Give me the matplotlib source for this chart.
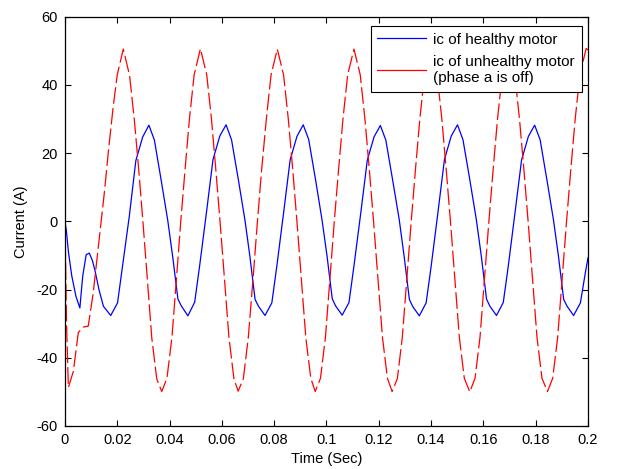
import matplotlib
matplotlib.use("Agg")
import matplotlib.pyplot as plt
from matplotlib.lines import Line2D

plt.rcParams['font.family'] = ['Liberation Sans', 'DejaVu Sans']
plt.rcParams['lines.scale_dashes'] = False
plt.rcParams['axes.unicode_minus'] = False

# healthy motor, phase c current
t_healthy = [0.0000, 0.0005, 0.0013, 0.0026, 0.0042, 0.0057, 0.0062, 0.0068, 0.0081, 0.0093,
             0.0105, 0.0115, 0.0130, 0.0147,
             0.0175, 0.0201, 0.0220, 0.0246, 0.0271, 0.0297, 0.0321, 0.0342, 0.0368, 0.0393, 0.0412, 0.0432, 0.0445,
             0.0470, 0.0496, 0.0515, 0.0541, 0.0566, 0.0592, 0.0616, 0.0637, 0.0663, 0.0688, 0.0707, 0.0727, 0.0740,
             0.0765, 0.0791, 0.0810, 0.0836, 0.0861, 0.0887, 0.0911, 0.0932, 0.0958, 0.0983, 0.1002, 0.1022, 0.1035,
             0.1060, 0.1086, 0.1105, 0.1131, 0.1156, 0.1182, 0.1206, 0.1227, 0.1253, 0.1278, 0.1297, 0.1317, 0.1330,
             0.1355, 0.1381, 0.1400, 0.1426, 0.1451, 0.1477, 0.1501, 0.1522, 0.1548, 0.1573, 0.1592, 0.1612, 0.1625,
             0.1650, 0.1676, 0.1695, 0.1721, 0.1746, 0.1772, 0.1796, 0.1817, 0.1843, 0.1868, 0.1887, 0.1907, 0.1920,
             0.1945, 0.1971, 0.1990, 0.2000]
i_healthy = [0.0, -2.5, -8.8, -16.0, -22.0, -25.4, -21.0, -16.0, -9.8, -9.3,
             -11.5, -14.5, -20.0, -24.9,
             -27.6, -23.9, -13.2, 1.5, 17.8, 24.7, 28.2, 23.8, 12.0, 0.3, -10.4, -22.8, -24.8,
             -27.7, -23.7, -13.0, 2.6, 18.1, 25.0, 28.3, 23.9, 12.2, 0.5, -10.2, -22.9, -24.9,
             -27.6, -23.9, -13.2, 2.5, 18.0, 24.9, 28.3, 24.0, 12.3, 0.4, -10.1, -22.7, -24.8,
             -27.5, -23.8, -13.1, 2.4, 17.9, 24.8, 28.1, 23.8, 12.1, 0.6, -10.3, -22.9, -25.0,
             -27.7, -23.9, -13.3, 2.5, 18.1, 25.0, 28.3, 23.9, 12.2, 0.5, -10.2, -22.8, -24.9,
             -27.6, -23.8, -13.2, 2.6, 18.0, 24.9, 28.2, 23.9, 12.1, 0.4, -10.2, -22.9, -24.9,
             -27.6, -23.9, -15.0, -10.7]

# unhealthy motor (phase a off), phase c current
t_faulty = [0.0000, 0.0006, 0.0013, 0.0032, 0.0051, 0.0070, 0.0089, 0.0108, 0.0134, 0.0150,
            0.0168, 0.0185, 0.0200, 0.0223,
            0.0247, 0.0265, 0.0282, 0.0298, 0.0314, 0.0332, 0.0351, 0.0370,
            0.0390, 0.0409, 0.0427, 0.0443, 0.0459, 0.0476, 0.0494, 0.0518,
            0.0542, 0.0560, 0.0577, 0.0593, 0.0609, 0.0627, 0.0646, 0.0662,
            0.0682, 0.0701, 0.0720, 0.0736, 0.0752, 0.0770, 0.0788, 0.0812,
            0.0836, 0.0854, 0.0871, 0.0887, 0.0903, 0.0921, 0.0940, 0.0957,
            0.0977, 0.0996, 0.1014, 0.1030, 0.1046, 0.1063, 0.1081, 0.1105,
            0.1129, 0.1147, 0.1164, 0.1180, 0.1196, 0.1214, 0.1233, 0.1251,
            0.1271, 0.1290, 0.1308, 0.1324, 0.1340, 0.1357, 0.1375, 0.1399,
            0.1423, 0.1441, 0.1458, 0.1474, 0.1490, 0.1508, 0.1527, 0.1548,
            0.1568, 0.1587, 0.1605, 0.1621, 0.1637, 0.1654, 0.1672, 0.1696,
            0.1720, 0.1738, 0.1755, 0.1771, 0.1787, 0.1805, 0.1824, 0.1845,
            0.1865, 0.1884, 0.1902, 0.1918, 0.1934, 0.1951, 0.1969, 0.1993,
            0.2000]
i_faulty = [0.0, -30.0, -48.7, -44.0, -32.6, -31.0, -30.7, -21.0, -3.0, 8.0,
            22.0, 34.0, 43.0, 50.5,
            42.8, 30.0, 15.2, 0.0, -16.0, -34.2, -46.2, -49.9,
            -46.0, -34.0, -16.2, 0.2, 15.0, 30.1, 43.0, 50.6,
            43.0, 30.2, 15.0, -0.1, -16.0, -34.0, -46.1, -49.8,
            -46.2, -34.1, -16.0, 0.0, 15.1, 30.0, 42.9, 50.5,
            42.9, 30.0, 15.1, 0.0, -16.1, -34.1, -46.0, -49.9,
            -46.0, -34.0, -16.0, 0.1, 15.0, 30.0, 43.0, 50.5,
            43.0, 30.0, 15.0, 0.0, -16.0, -34.0, -46.0, -49.9,
            -46.1, -34.0, -16.1, 0.0, 15.0, 30.1, 42.9, 50.4,
            42.9, 30.1, 15.0, 0.0, -16.0, -34.0, -46.0, -50.0,
            -46.0, -34.0, -16.0, 0.0, 15.0, 30.0, 43.0, 50.5,
            43.0, 30.0, 15.0, 0.0, -16.0, -34.0, -46.0, -49.9,
            -46.0, -34.0, -16.0, 0.0, 15.0, 30.0, 43.0, 50.7,
            50.3]

x_ticks = [0, 0.02, 0.04, 0.06, 0.08, 0.1, 0.12, 0.14, 0.16, 0.18, 0.2]
x_tick_labels = ['0', '0.02', '0.04', '0.06', '0.08', '0.1', '0.12', '0.14', '0.16', '0.18', '0.2']
y_ticks = [-60, -40, -20, 0, 20, 40, 60]

fig = plt.figure(figsize=(6.17, 4.69), dpi=100)
ax = fig.add_axes([0.1053, 0.0917, 0.8477, 0.8727])

ax.plot(t_healthy, i_healthy, color='#0000ff', lw=0.9)
ax.plot(t_faulty, i_faulty, color='#ff0000', lw=0.9, linestyle=(0, (12, 3)))

ax.set_xlim(0, 0.2)
ax.set_ylim(-60, 60)
ax.set_xticks(x_ticks)
ax.set_xticklabels(x_tick_labels)
ax.set_yticks(y_ticks)
ax.tick_params(direction='in', top=True, right=True, length=4, width=0.8, labelsize=10.5, pad=5)
for s in ax.spines.values():
    s.set_linewidth(0.9)

ax.set_xlabel('Time (Sec)', fontsize=10.5, labelpad=4)
ax.set_ylabel('Current (A)', fontsize=10.5, labelpad=6)

handles = [Line2D([], [], color='#0000ff', lw=0.9), Line2D([], [], color='#ff0000', lw=0.9)]
leg = ax.legend(handles, ['ic of healthy motor', 'ic of unhealthy motor\n(phase a is off)'],
                loc='upper right', bbox_to_anchor=(0.988, 0.978), borderaxespad=0,
                fancybox=False, framealpha=1, edgecolor='black', fontsize=11,
                handlelength=3.2, handletextpad=0.45, borderpad=0.45, labelspacing=0.55)
leg.get_frame().set_linewidth(0.8)

fig.savefig('out.png', dpi=100)
